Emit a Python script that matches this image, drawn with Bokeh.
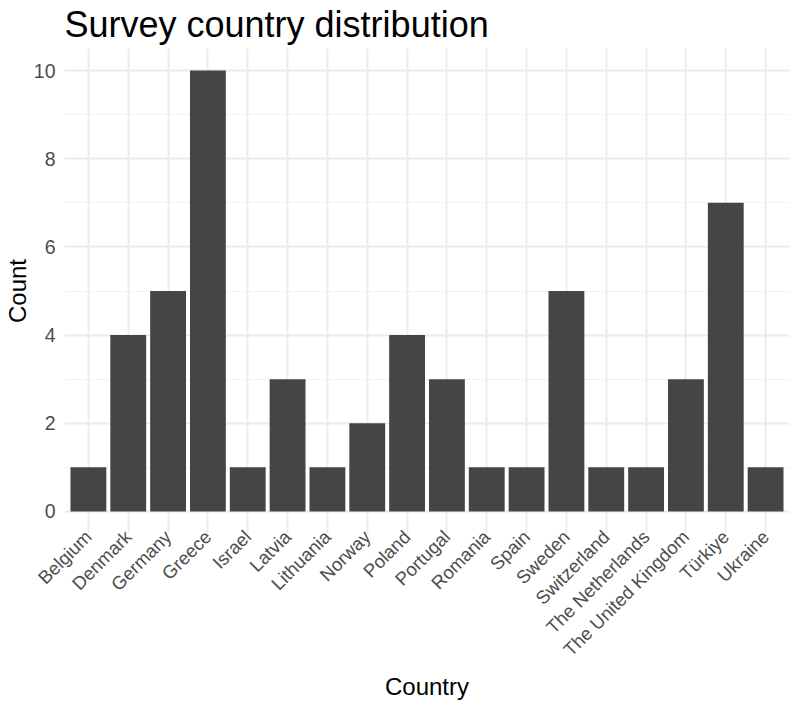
from bokeh.plotting import figure
from bokeh.models import FactorRange, Range1d, FixedTicker, ColumnDataSource
from bokeh.embed import file_html
from bokeh.resources import INLINE
import math

countries = ["Belgium", "Denmark", "Germany", "Greece", "Israel", "Latvia",
             "Lithuania", "Norway", "Poland", "Portugal", "Romania", "Spain",
             "Sweden", "Switzerland", "The Netherlands", "The United Kingdom",
             "Türkiye", "Ukraine"]
counts = [1, 4, 5, 10, 1, 3, 1, 2, 4, 3, 1, 1, 5, 1, 1, 3, 7, 1]
y_major = [0, 2, 4, 6, 8, 10]
y_minor = [1, 3, 5, 7, 9]

FONT = "Liberation Sans"

src = ColumnDataSource(dict(country=countries, count=counts))

p = figure(
    x_range=FactorRange(factors=countries, range_padding=0.1, range_padding_units="absolute"),
    y_range=Range1d(-0.5, 10.5),
    width=792, height=703,
    output_backend="svg", toolbar_location=None,
    title="Survey country distribution",
    min_border_left=63, min_border_right=3, min_border_top=48, min_border_bottom=170,
)

p.vbar(x="country", top="count", width=0.9, source=src,
       fill_color="#454545", line_color=None)

p.outline_line_color = None
p.background_fill_color = "white"
p.border_fill_color = "white"

p.title.text_font = FONT
p.title.text_font_size = "36px"
p.title.text_font_style = "normal"
p.title.text_color = "black"
p.title.align = "left"
p.title.vertical_align = "top"
p.title.offset = 0
p.title.standoff = 3

p.yaxis.ticker = FixedTicker(ticks=y_major, minor_ticks=y_minor)
p.ygrid.ticker = FixedTicker(ticks=y_major, minor_ticks=y_minor)

for ax in (p.xaxis[0], p.yaxis[0]):
    ax.axis_line_color = None
    ax.major_tick_line_color = None
    ax.minor_tick_line_color = None
    ax.major_tick_in = 0
    ax.major_tick_out = 0
    ax.minor_tick_in = 0
    ax.minor_tick_out = 0
    ax.major_label_text_font = FONT
    ax.major_label_text_color = "#4d4d4d"
    ax.axis_label_text_font = FONT
    ax.axis_label_text_font_style = "normal"
    ax.axis_label_text_color = "black"

p.yaxis.major_label_text_font_size = "19.5px"
p.yaxis.major_label_standoff = 9
p.yaxis.axis_label = "Count"
p.yaxis.axis_label_text_font_size = "24px"
p.yaxis.axis_label_standoff = 0

p.xaxis.major_label_text_font_size = "18.5px"
p.xaxis.major_label_orientation = math.pi / 4
p.xaxis.major_label_standoff = 0
p.xaxis.axis_label = "Country"
p.xaxis.axis_label_text_font_size = "24px"
p.xaxis.axis_label_standoff = 2

p.xgrid.grid_line_color = "#ebebeb"
p.xgrid.grid_line_width = 1.8
p.ygrid.grid_line_color = "#ebebeb"
p.ygrid.grid_line_width = 1.8
p.ygrid.minor_grid_line_color = "#f2f2f2"
p.ygrid.minor_grid_line_width = 1.0

open("out.html", "w").write(file_html(p, INLINE))
